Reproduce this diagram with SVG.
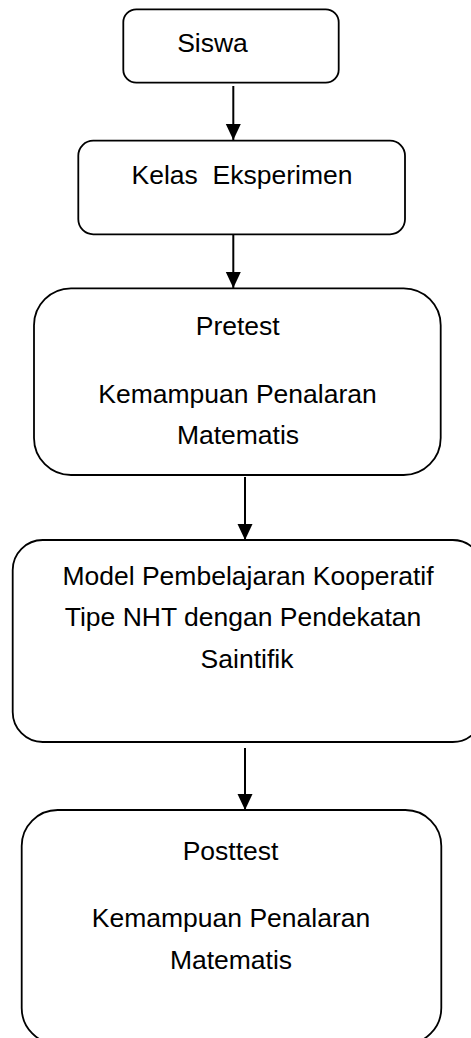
<svg xmlns="http://www.w3.org/2000/svg" width="471" height="1038" viewBox="0 0 471 1038">
  <defs>
    <marker id="arrow" markerUnits="userSpaceOnUse" markerWidth="16" markerHeight="16" refX="16" refY="7.5" orient="auto">
      <path d="M0,0 L16,7.5 L0,15 Z" fill="#000"/>
    </marker>
  </defs>
  <style>
    .box { fill: #fff; stroke: #000; stroke-width: 1.8; }
    .lbl { font-family: "Liberation Sans", Arial, sans-serif; font-size: 26.5px; fill: #000; text-anchor: middle; }
    .conn { stroke: #000; stroke-width: 2; fill: none; marker-end: url(#arrow); }
  </style>
  <rect width="471" height="1038" fill="#fff"/>

  <g id="connectors">
    <line class="conn" x1="233.3" y1="86" x2="233.3" y2="140"/>
    <line class="conn" x1="233.3" y1="235" x2="233.3" y2="288"/>
    <line class="conn" x1="245" y1="477" x2="245" y2="540"/>
    <line class="conn" x1="245" y1="748" x2="245" y2="810"/>
  </g>

  <g id="node-siswa">
    <rect class="box" x="123.3" y="9.3" width="215.4" height="73.4" rx="13" ry="13"/>
    <text class="lbl" x="212.5" y="52">Siswa</text>
  </g>

  <g id="node-kelas">
    <rect class="box" x="78.3" y="140.7" width="326.7" height="93.6" rx="15" ry="15"/>
    <text class="lbl" x="242" y="183.5" xml:space="preserve">Kelas  Eksperimen</text>
  </g>

  <g id="node-pretest">
    <rect class="box" x="34" y="288.3" width="406.7" height="186.7" rx="37" ry="37"/>
    <text class="lbl" x="237.7" y="335">Pretest</text>
    <text class="lbl" x="237.5" y="403">Kemampuan Penalaran</text>
    <text class="lbl" x="238" y="443.5">Matematis</text>
  </g>

  <g id="node-model">
    <rect class="box" x="12.7" y="540" width="470" height="202" rx="30" ry="30"/>
    <text class="lbl" x="248" y="585">Model Pembelajaran Kooperatif</text>
    <text class="lbl" x="243" y="626">Tipe NHT dengan Pendekatan</text>
    <text class="lbl" x="247" y="668">Saintifik</text>
  </g>

  <g id="node-posttest">
    <rect class="box" x="21.7" y="810" width="419.6" height="234" rx="36" ry="36"/>
    <text class="lbl" x="230.5" y="860">Posttest</text>
    <text class="lbl" x="231" y="927">Kemampuan Penalaran</text>
    <text class="lbl" x="231" y="968.5">Matematis</text>
  </g>
</svg>
